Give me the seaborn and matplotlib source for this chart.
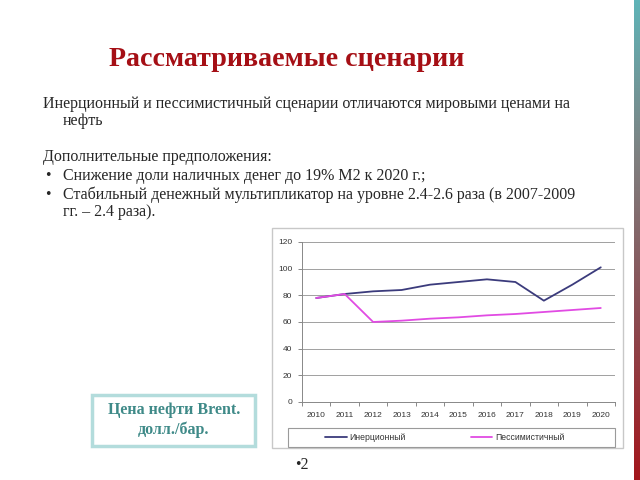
import numpy as np
import pandas as pd
import matplotlib
matplotlib.use("Agg")
import matplotlib.pyplot as plt
import seaborn as sns
from matplotlib.patches import Rectangle
from matplotlib.colors import LinearSegmentedColormap

years = ["2010", "2011", "2012", "2013", "2014", "2015", "2016", "2017", "2018", "2019", "2020"]
inertial = [78, 81, 83, 84, 88, 90, 92, 90, 76, 88, 101]
pessimistic = [78, 81, 60, 61, 62.5, 63.5, 65, 66, 67.5, 69, 70.5]
series_names = ["Инерционный", "Пессимистичный"]
y_ticks = [0, 20, 40, 60, 80, 100, 120]

title_text = "Рассматриваемые сценарии"
body_lines = [
    "Инерционный и пессимистичный сценарии отличаются мировыми ценами на",
    "нефть",
    "Дополнительные предположения:",
    "Снижение доли наличных денег до 19% М2 к 2020 г.;",
    "Стабильный денежный мультипликатор на уровне 2.4-2.6 раза (в 2007-2009",
    "гг. – 2.4 раза).",
]
box_text = "Цена нефти Brent.\nдолл./бар."
page_text = "•2"

sns.set_theme(style="white")
plt.rcParams["font.family"] = ["Liberation Sans", "DejaVu Sans"]

W, H = 640, 480
fig = plt.figure(figsize=(6.4, 4.8), dpi=100)
fig.patch.set_facecolor("white")

def fx(x):
    return x / W

def fy(y):
    return 1 - y / H

# right gradient strip
gax = fig.add_axes([fx(634), 0, fx(6), 1])
grad = np.linspace(0, 1, 256).reshape(-1, 1)
cmap = LinearSegmentedColormap.from_list("g", ["#5fb4b8", "#7f7f7f", "#8a4a50", "#a3161c"])
gax.imshow(grad, aspect="auto", cmap=cmap, extent=[0, 1, 0, 1], origin="upper")
gax.set_axis_off()

# title
fig.text(fx(287), fy(60), title_text, ha="center", va="center",
         fontsize=20.2, fontweight="bold", color="#a50f15", family=["Liberation Serif"])

serif = ["Liberation Serif", "DejaVu Serif"]
body_fs = 11.5
col = "#262626"
fig.text(fx(43), fy(104), body_lines[0], ha="left", va="center", fontsize=body_fs, color=col, family=serif)
fig.text(fx(63), fy(121), body_lines[1], ha="left", va="center", fontsize=body_fs, color=col, family=serif)
fig.text(fx(43), fy(157), body_lines[2], ha="left", va="center", fontsize=body_fs, color=col, family=serif)
fig.text(fx(45), fy(176), "•", ha="left", va="center", fontsize=body_fs, color=col, family=serif)
fig.text(fx(63), fy(176), body_lines[3], ha="left", va="center", fontsize=body_fs, color=col, family=serif)
fig.text(fx(45), fy(195), "•", ha="left", va="center", fontsize=body_fs, color=col, family=serif)
fig.text(fx(63), fy(195), body_lines[4], ha="left", va="center", fontsize=body_fs, color=col, family=serif)
fig.text(fx(63), fy(212), body_lines[5], ha="left", va="center", fontsize=body_fs, color=col, family=serif)

# caption box
fig.patches.append(Rectangle((fx(92), fy(446)), fx(255 - 92), (446 - 395) / H,
                             transform=fig.transFigure, facecolor="white",
                             edgecolor="#b3dcdc", linewidth=2.5, zorder=-1))
fig.text(fx(174), fy(420), box_text, ha="center", va="center", fontsize=11.5,
         fontweight="bold", color="#3f8a88", family=serif, linespacing=1.35)

fig.text(fx(295), fy(465), page_text, ha="left", va="center", fontsize=11.5, color=col, family=serif)

# chart outer frame
fig.patches.append(Rectangle((fx(272), fy(448)), fx(623 - 272), (448 - 228) / H,
                             transform=fig.transFigure, facecolor="white",
                             edgecolor="#c8c8c8", linewidth=1.0, zorder=-1))
# legend frame
fig.patches.append(Rectangle((fx(288), fy(447)), fx(615 - 288), (447 - 428) / H,
                             transform=fig.transFigure, facecolor="none",
                             edgecolor="#9a9a9a", linewidth=0.8, zorder=3))

ax = fig.add_axes([fx(302), fy(402), fx(615 - 302), (402 - 242) / H])
ax.patch.set_alpha(0)
df = pd.DataFrame({
    "x": list(range(len(years))) * 2,
    "value": inertial + pessimistic,
    "scenario": [series_names[0]] * len(years) + [series_names[1]] * len(years),
})
sns.lineplot(data=df, x="x", y="value", hue="scenario", hue_order=series_names,
             palette=["#3b3b7c", "#e14be3"], linewidth=1.3, ax=ax, legend=False)

ax.set_xlim(-0.5, len(years) - 0.5)
ax.set_ylim(0, 120)
ax.set_xticks(np.arange(-0.5, len(years), 1.0))
ax.set_xticklabels([])
ax.set_xticks(range(len(years)), minor=True)
ax.set_xticklabels(years, minor=True)
ax.set_yticks(y_ticks)
ax.set_yticklabels([str(v) for v in y_ticks])
ax.tick_params(axis="x", which="major", length=3, width=0.7, color="#888888", direction="out", bottom=True)
ax.tick_params(axis="x", which="minor", length=0, labelsize=6.0, labelcolor="#333333", pad=7)
ax.tick_params(axis="y", which="major", length=3, width=0.7, color="#888888", direction="out", left=True,
               labelsize=6.0, labelcolor="#333333", pad=4)
ax.grid(axis="y", color="#a0a0a0", linewidth=0.7)
ax.set_axisbelow(True)
for s in ["top", "right"]:
    ax.spines[s].set_visible(False)
for s in ["left", "bottom"]:
    ax.spines[s].set_color("#888888")
    ax.spines[s].set_linewidth(0.7)
ax.set_xlabel("")
ax.set_ylabel("")

handles = ax.get_lines()[:2]
fig.legend(handles, series_names, loc="center left",
           bbox_to_anchor=(fx(325), fy(437.5)), bbox_transform=fig.transFigure,
           ncol=2, frameon=False, fontsize=6.2, handlelength=2.5, handletextpad=0.3,
           columnspacing=7.6, labelcolor="#333333", borderpad=0, borderaxespad=0)

fig.savefig("out.png", dpi=100, facecolor="white")
